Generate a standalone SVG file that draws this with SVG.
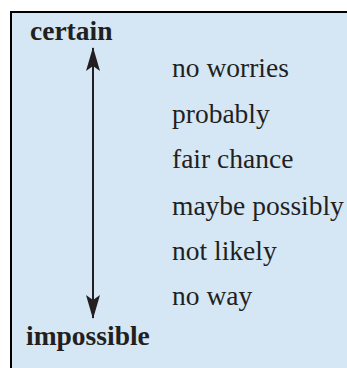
<svg xmlns="http://www.w3.org/2000/svg" width="347" height="368" viewBox="0 0 347 368">
<style>
.lbl{font-family:"Liberation Serif","Times New Roman",serif;font-size:27.5px;fill:#231f20}
.b{font-weight:bold}
</style>
<defs>
<marker id="ah" viewBox="0 0 24 14" refX="23" refY="7" markerWidth="24" markerHeight="14" markerUnits="userSpaceOnUse" orient="auto">
<path d="M0,0 L24,7 L0,14 L5,7 Z" fill="#231f20"/>
</marker>
</defs>
<rect id="frame" x="11" y="12" width="340" height="362" fill="#d5e6f5" stroke="#000" stroke-width="2"/>
<g id="connectors">
<line x1="93" y1="183" x2="93" y2="48" stroke="#231f20" stroke-width="2" marker-end="url(#ah)"/>
<line x1="93" y1="183" x2="93" y2="318" stroke="#231f20" stroke-width="2" marker-end="url(#ah)"/>
</g>
<g id="certain"><text class="lbl b" x="30" y="40">certain</text></g>
<g id="impossible"><text class="lbl b" x="26" y="345">impossible</text></g>
<g id="no-worries"><text class="lbl" x="172" y="77">no worries</text></g>
<g id="probably"><text class="lbl" x="172" y="122.5">probably</text></g>
<g id="fair-chance"><text class="lbl" x="172" y="168">fair chance</text></g>
<g id="maybe-possibly"><text class="lbl" x="172" y="214.5">maybe possibly</text></g>
<g id="not-likely"><text class="lbl" x="172" y="259.5">not likely</text></g>
<g id="no-way"><text class="lbl" x="172" y="305">no way</text></g>
</svg>
